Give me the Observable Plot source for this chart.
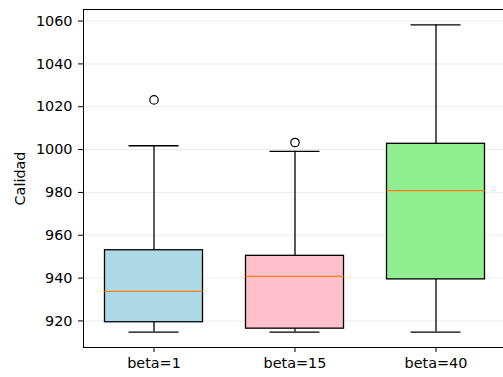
<!DOCTYPE html>
<html>
<head>
<meta charset="utf-8">
<script src="https://cdn.jsdelivr.net/npm/d3@7"></script>
<script src="https://cdn.jsdelivr.net/npm/@observablehq/plot@0.6"></script>
<style>
  html, body { margin: 0; padding: 0; background: #fff; }
</style>
</head>
<body>
<div id="chart"></div>
<script>
const categories = ["beta=1", "beta=15", "beta=40"];
const whiskerLow = [914.8, 914.8, 914.8];
const q1 = [919.4, 916.4, 939.4];
const median = [933.8, 940.8, 980.8];
const q3 = [953.0, 950.4, 1002.7];
const whiskerHigh = [1001.8, 999.2, 1058.2];
const outlierCats = ["beta=1", "beta=15"];
const outlierValues = [1023.2, 1003.3];
const colors = ["#add8e6", "#ffc0cb", "#90ee90"];
const yTicks = [920, 940, 960, 980, 1000, 1020, 1040, 1060];

const boxes = categories.map((c, i) => ({
  cat: c, low: whiskerLow[i], q1: q1[i], med: median[i], q3: q3[i], high: whiskerHigh[i], color: colors[i]
}));
const outliers = outlierCats.map((c, i) => ({cat: c, v: outlierValues[i]}));

const chart = Plot.plot({
  width: 503,
  height: 377,
  marginLeft: 83,
  marginRight: -3,
  marginTop: 9,
  marginBottom: 30,
  style: {fontFamily: "DejaVu Sans", fontSize: "14.4px", color: "#000", background: "#fff"},
  x: {domain: categories, padding: 0, label: null},
  y: {domain: [907.6, 1065.4], label: null},
  marks: [
    Plot.gridY(yTicks, {stroke: "#b0b0b0", strokeOpacity: 0.3, strokeWidth: 0.8}),
    Plot.ruleX(boxes, {x: "cat", y1: "q1", y2: "low", stroke: "#000", strokeWidth: 1.3}),
    Plot.ruleX(boxes, {x: "cat", y1: "q3", y2: "high", stroke: "#000", strokeWidth: 1.3}),
    Plot.tickY(boxes, {x: "cat", y: "low", stroke: "#000", strokeWidth: 1.3, insetLeft: 45.5, insetRight: 45.5}),
    Plot.tickY(boxes, {x: "cat", y: "high", stroke: "#000", strokeWidth: 1.3, insetLeft: 45.5, insetRight: 45.5}),
    Plot.barY(boxes, {x: "cat", y1: "q1", y2: "q3", fill: "color", stroke: "#000", strokeWidth: 1.3, insetLeft: 21.5, insetRight: 21.5}),
    Plot.tickY(boxes, {x: "cat", y: "med", stroke: "#ff7f0e", strokeWidth: 1.3, insetLeft: 21.5, insetRight: 21.5}),
    Plot.dot(outliers, {x: "cat", y: "v", r: 4.2, stroke: "#000", fill: "none", strokeWidth: 1.2}),
    Plot.frame({stroke: "#000", strokeWidth: 1}),
    Plot.axisY(yTicks, {tickSize: 5, tickPadding: 6, tickFormat: "d", fontSize: "14.4px", label: "Calidad", labelAnchor: "center", labelArrow: "none", labelOffset: 69}),
    Plot.axisX({tickSize: 5, tickPadding: 5, fontSize: "14.4px", label: null})
  ]
});
document.getElementById("chart").appendChild(chart);
</script>
</body>
</html>
